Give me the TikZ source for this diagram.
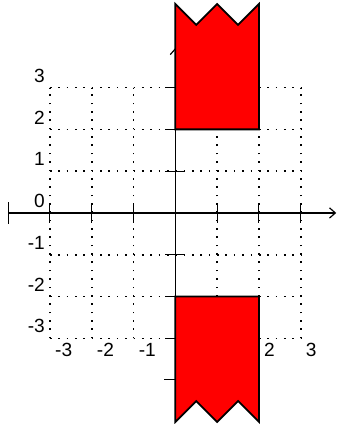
\documentclass[tikz,border=0pt]{standalone}
\usepackage{fontspec}
\setmainfont{Liberation Sans}
\usetikzlibrary{arrows.meta}

\begin{document}
\begin{tikzpicture}[
    gridline/.style={line width=1.1pt, dash pattern=on 1.1pt off 4.59pt},
    axis/.style={line width=0.8pt, {Bar[width=0.52cm]}-{Straight Barb[length=4pt,width=7pt]}},
    tick/.style={line width=0.7pt},
    flag/.style={fill=red, draw=black, line width=1.2pt, line join=miter},
    lbl/.style={font=\fontsize{13}{15}\selectfont},
  ]
    \useasboundingbox (-4.196,-5.05) rectangle (3.866,5.096);
    % dotted grid
    \draw[gridline] (-3,-3) grid (3,3);
    % axes
    \coordinate (xmin) at (-4,0);
    \coordinate (xmax) at (3.85,0);
    \coordinate (ymin) at (0,-4);
    \coordinate (ymax) at (0,3.95);
    \draw[axis] (xmin) -- (xmax);
    \draw[axis] (ymin) -- (ymax);
    \foreach \i in {-3,...,3} {
      \draw[tick] (\i,-0.24) -- (\i,0.24);
      \draw[tick] (-0.24,\i) -- (0.24,\i);
      \node[lbl, anchor=north west] (xl\i) at (\i,-3) {\i};
      \node[lbl, anchor=south east] (yl\i) at (-3,\i) {\i};
    }
    % red strips
    \filldraw[flag] (0,2) -- (0,5) -- (0.5,4.5) -- (1,5) -- (1.5,4.5) -- (2,5) -- (2,2) -- cycle;
    \filldraw[flag] (0,-2) -- (0,-5) -- (0.5,-4.5) -- (1,-5) -- (1.5,-4.5) -- (2,-5) -- (2,-2) -- cycle;
\end{tikzpicture}
\end{document}
